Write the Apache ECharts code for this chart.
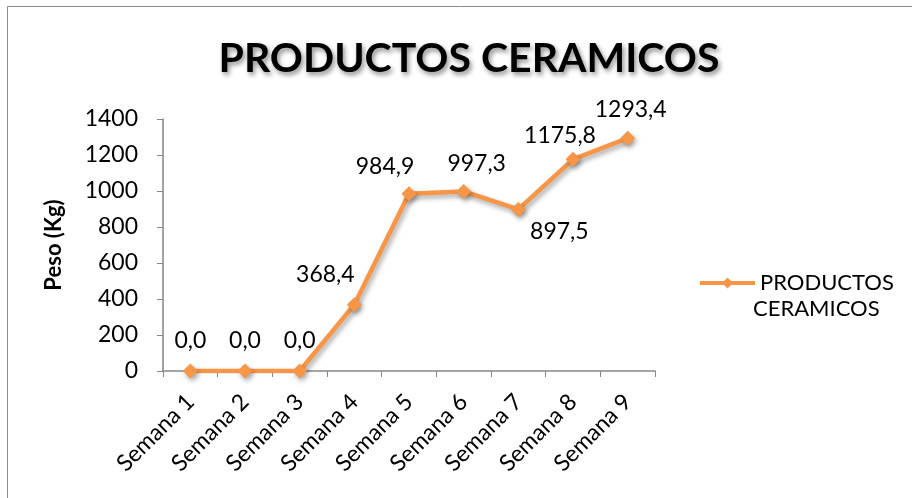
<!DOCTYPE html>
<html>
<head>
<meta charset="utf-8">
<script src="https://cdn.jsdelivr.net/npm/echarts@6/dist/echarts.min.js"></script>
<style>
  html, body { margin: 0; padding: 0; background: #fff; }
  #chart { width: 912px; height: 498px; }
</style>
</head>
<body>
<div id="chart"></div>
<script>
const semanas = ["Semana 1", "Semana 2", "Semana 3", "Semana 4", "Semana 5", "Semana 6", "Semana 7", "Semana 8", "Semana 9"];
const pesos = [0, 0, 0, 368.4, 984.9, 997.3, 897.5, 1175.8, 1293.4];
const yTicks = [0, 200, 400, 600, 800, 1000, 1200, 1400];

// label placement per point (Excel nudges some of them sideways / below)
const labelPos = ["top", "top", "top", "top", "top", "top", "bottom", "top", "top"];
const labelOff = [[0, 0], [0, 0], [0, 0], [-29, 0], [-24, 3], [13, 2], [41, -8], [-13, 6], [3, 1]];

const fontFam = "Lato, 'Open Sans', sans-serif";
const orange = "#F79646";
const chart = echarts.init(document.getElementById("chart"));
chart.setOption({
  animation: false,
  title: {
    text: "PRODUCTOS CERAMICOS",
    left: 464,
    top: 33,
    textAlign: "center",
    textStyle: {
      fontFamily: fontFam,
      fontSize: 41,
      fontWeight: "bold",
      color: "#000",
      textShadowColor: "rgba(0,0,0,0.45)",
      textShadowBlur: 5,
      textShadowOffsetX: 2,
      textShadowOffsetY: 3
    }
  },
  graphic: [
    {
      type: "rect",
      shape: { x: 7.5, y: 6.5, width: 1000, height: 1000 },
      style: { fill: "none", stroke: "#8a8a8a", lineWidth: 1 },
      silent: true
    },
    {
      type: "text",
      left: 753,
      top: 298,
      style: { text: "CERAMICOS", font: "22px " + fontFam, fill: "#000" },
      silent: true
    }
  ],
  legend: {
    left: 693,
    top: 267,
    itemWidth: 55,
    itemHeight: 14,
    lineStyle: { width: 4 },
    textStyle: { fontFamily: fontFam, fontSize: 22, color: "#000" },
    formatter: () => "PRODUCTOS",
    data: ["PRODUCTOS CERAMICOS"]
  },
  grid: { left: 163, right: 257, top: 119, bottom: 127 },
  xAxis: {
    type: "category",
    boundaryGap: true,
    data: semanas,
    axisLine: { lineStyle: { color: "#868686", width: 1.5 } },
    axisTick: { show: true, length: 6, lineStyle: { color: "#868686" } },
    axisLabel: {
      interval: 0,
      rotate: 45,
      margin: 27,
      fontFamily: fontFam,
      fontSize: 23,
      color: "#000"
    }
  },
  yAxis: {
    type: "value",
    min: 0,
    max: 1400,
    interval: 200,
    name: "Peso (Kg)",
    nameLocation: "middle",
    nameGap: 98,
    nameTextStyle: { fontFamily: fontFam, fontSize: 22, fontWeight: "bold", color: "#000" },
    splitLine: { show: false },
    axisLine: { show: true, lineStyle: { color: "#868686", width: 1.5 } },
    axisTick: { show: true, length: 6, lineStyle: { color: "#868686" } },
    axisLabel: {
      margin: 25,
      fontFamily: fontFam,
      fontSize: 23,
      color: "#000",
      formatter: v => yTicks.includes(v) ? String(v) : ""
    }
  },
  series: [{
    name: "PRODUCTOS CERAMICOS",
    type: "line",
    symbol: "diamond",
    symbolSize: 15,
    lineStyle: {
      color: orange,
      width: 4.5,
      shadowColor: "rgba(0,0,0,0.35)",
      shadowBlur: 5,
      shadowOffsetX: 2,
      shadowOffsetY: 3
    },
    itemStyle: {
      color: orange,
      shadowColor: "rgba(0,0,0,0.35)",
      shadowBlur: 5,
      shadowOffsetX: 2,
      shadowOffsetY: 3
    },
    data: pesos.map((v, i) => ({
      value: v,
      label: { position: labelPos[i], offset: labelOff[i] }
    })),
    label: {
      show: true,
      distance: 11,
      fontFamily: fontFam,
      fontSize: 23,
      color: "#000",
      formatter: p => p.value.toFixed(1).replace(".", ",")
    }
  }]
});
</script>
</body>
</html>
